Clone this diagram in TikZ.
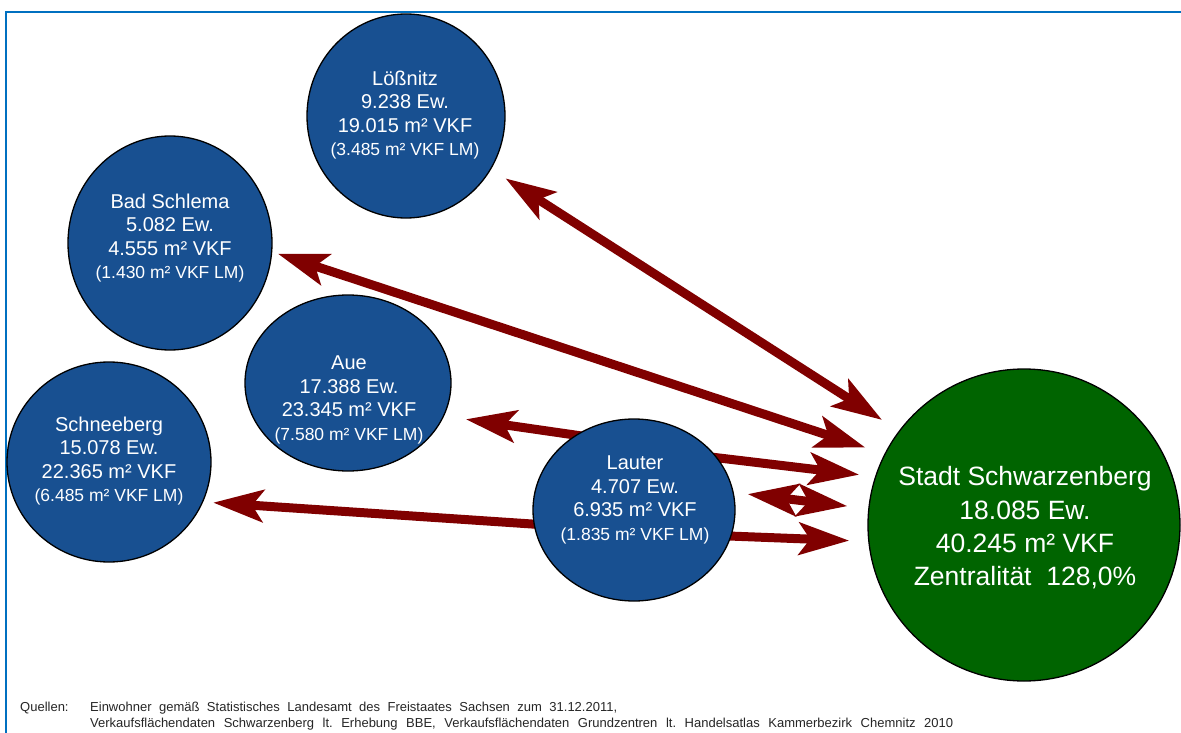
\documentclass[tikz,border=0pt]{standalone}
\usepackage{fontspec}
\setmainfont{Liberation Sans}
\usepackage{tikz}
\usetikzlibrary{arrows.meta,shapes.geometric,backgrounds}

\definecolor{townblue}{RGB}{24,80,145}
\definecolor{citygreen}{RGB}{0,100,0}
\definecolor{flowred}{RGB}{128,0,0}
\definecolor{frameblue}{RGB}{0,112,192}

\newcommand{\lmarea}[1]{{\fontsize{17.5}{23.5}\selectfont(#1 m² VKF LM)}}

\tikzset{
    town/.style={ellipse, draw=black, line width=1.3pt, fill=townblue, inner sep=0pt},
    towntext/.style={text=white, align=center, font=\fontsize{20}{23.5}\selectfont},
    citytext/.style={text=white, align=center, font=\fontsize{26.5}{33.3}\selectfont},
    srctext/.style={text=black!85, inner sep=0pt, anchor=base west, font=\frenchspacing\fontsize{13}{15}\selectfont},
    flow/.style={draw=flowred, line width=9pt, -{Stealth[length=50pt,width=32pt,inset=11pt]}},
    flowboth/.style={flow, {Stealth[length=50pt,width=32pt,inset=11pt]}-{Stealth[length=50pt,width=32pt,inset=11pt]}}
}

\begin{document}
\begin{tikzpicture}[x=1pt,y=-1pt]
        \useasboundingbox (0,0) rectangle (1181,733);

        % Frame
        \draw[frameblue, line width=2.2pt] (6,733) -- (6,12) -- (1181,12);

        % Towns
        \node[town, minimum width=198pt, minimum height=204pt] (loess) at (406,116) {};
        \node[town, minimum width=204pt, minimum height=214pt] (schlema) at (170,243) {};
        \node[town, minimum width=206pt, minimum height=176pt] (aue) at (348,383) {};
        \node[town, minimum width=204pt, minimum height=200pt] (schnee) at (109,462) {};
        \node[town, minimum width=202pt, minimum height=182pt] (lauter) at (634,510) {};
        \node[town, fill=citygreen, minimum size=312pt] (stadt) at (1024,525) {};

        \node[towntext] (loess-t) at (405,115) {Lößnitz\\9.238 Ew.\\19.015 m² VKF\\\lmarea{3.485}};
        \node[towntext] (schlema-t) at (170,238) {Bad Schlema\\5.082 Ew.\\4.555 m² VKF\\\lmarea{1.430}};
        \node[towntext] (aue-t) at (349,400) {Aue\\17.388 Ew.\\23.345 m² VKF\\\lmarea{7.580}};
        \node[towntext] (schnee-t) at (109,461) {Schneeberg\\15.078 Ew.\\22.365 m² VKF\\\lmarea{6.485}};
        \node[towntext] (lauter-t) at (635,500) {Lauter\\4.707 Ew.\\6.935 m² VKF\\\lmarea{1.835}};
        \node[citytext] (stadt-t) at (1025,528) {Stadt Schwarzenberg\\18.085 Ew.\\40.245 m² VKF\\Zentralität\ \ 128,0\%};

        % Flows (behind the towns)
        \begin{scope}[on background layer]
            \fill[white] (0,0) rectangle (1181,733);
            \draw[flowboth, shorten <=17pt, shorten >=20pt] (loess.-32) -- (stadt.143.5);
            \draw[flowboth, shorten <=6pt, shorten >=20pt] (schlema.-5) -- (stadt.153);
            \draw[flowboth, shorten <=14pt, shorten >=21pt] (lauter.10) -- (stadt.174);
            \foreach \to/\from/\gap in {aue.-19/128/22pt, schnee.-23/188/10pt, stadt.162.4/32/16pt, stadt.186.6/-15/19pt}
                \draw[flow, shorten <=-10pt, shorten >=\gap] (lauter.\from) -- (\to);
        \end{scope}

        % Sources
        \node[srctext] (src) at (20,711) {Quellen:};
        \node[srctext] (src-a) at (90,711) {\makebox[527pt][s]{Einwohner gemäß Statistisches Landesamt des Freistaates Sachsen zum 31.12.2011,}};
        \node[srctext] (src-b) at (90,727) {\makebox[863pt][s]{Verkaufsflächendaten Schwarzenberg lt. Erhebung BBE, Verkaufsflächendaten Grundzentren lt. Handelsatlas Kammerbezirk Chemnitz 2010}};
    \end{tikzpicture}
\end{document}
